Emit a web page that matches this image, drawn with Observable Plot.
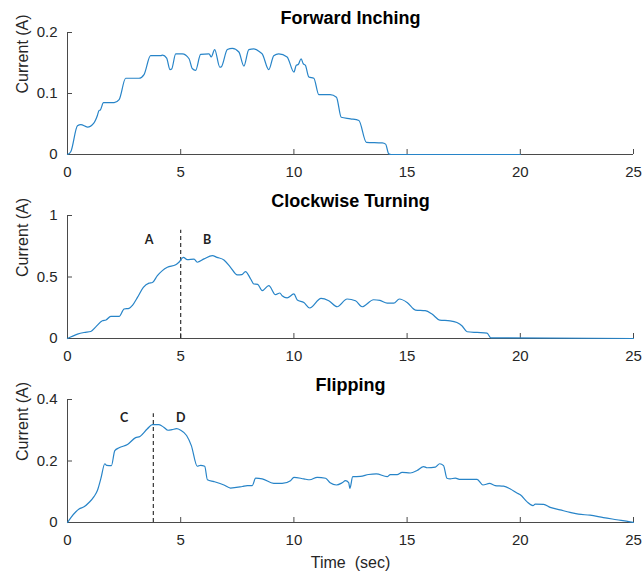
<!DOCTYPE html>
<html>
<head>
<meta charset="utf-8">
<script src="https://cdn.jsdelivr.net/npm/d3@7"></script>
<script src="https://cdn.jsdelivr.net/npm/@observablehq/plot@0.6"></script>
<style>
  html, body { margin: 0; padding: 0; background: #fff; }
  #chart svg { display: block; }
</style>
</head>
<body>
<div id="chart"></div>
<script>
// ---- Data ----
const xTicks = [0, 5, 10, 15, 20, 25];

const titles = ["Forward Inching", "Clockwise Turning", "Flipping"];
const yLabel = "Current (A)";
const xLabel = "Time\u00a0 (sec)";

// Panel 1: Forward Inching
const t1 = [0,0.15,0.44,0.59,0.88,1.17,1.32,1.39,1.45,1.59,2.06,2.28,2.57,3.16,3.38,3.67,4.12,4.2,4.38,4.53,4.6,4.78,5.07,5.37,5.51,5.66,5.88,6.25,6.35,6.5,6.73,6.8,7.06,7.28,7.57,7.79,8.01,8.23,8.5,8.6,8.89,9.11,9.33,9.7,10.0,10.1,10.2,10.32,10.41,10.51,10.66,10.88,11.1,11.6,11.88,12.09,12.5,12.87,13.2,13.9,14.05,14.19,14.3,20.0];
const v1 = [0,0.005,0.047,0.049,0.045,0.052,0.064,0.072,0.073,0.085,0.085,0.09,0.125,0.125,0.131,0.162,0.162,0.163,0.158,0.139,0.14,0.165,0.165,0.157,0.141,0.138,0.164,0.165,0.16,0.172,0.143,0.144,0.172,0.174,0.168,0.145,0.172,0.173,0.168,0.165,0.139,0.162,0.165,0.16,0.135,0.146,0.148,0.157,0.149,0.146,0.127,0.125,0.098,0.098,0.094,0.061,0.0585,0.0557,0.02,0.019,0.017,0.001,0,0];
const yTicks1 = [0, 0.1, 0.2];

// Panel 2: Clockwise Turning
const t2 = [0,0.44,0.73,1.03,1.25,1.54,1.7,1.91,2.28,2.5,2.72,2.87,3.09,3.35,3.6,3.75,3.97,4.19,4.41,4.78,4.92,5.12,5.29,5.59,5.73,6.03,6.4,6.6,6.91,7.2,7.5,7.7,7.86,8.09,8.23,8.4,8.6,8.89,9.19,9.38,9.48,9.7,10.0,10.15,10.44,10.7,11.2,11.54,11.91,12.35,12.72,13.01,13.52,13.8,14.12,14.41,14.66,15.0,15.37,15.8,16.1,16.44,16.9,17.2,17.42,17.65,18.09,18.53,18.7,25];
const v2 = [0,0.036,0.049,0.057,0.095,0.144,0.15,0.18,0.18,0.24,0.245,0.27,0.334,0.416,0.45,0.455,0.511,0.552,0.579,0.6,0.62,0.66,0.641,0.645,0.62,0.647,0.674,0.66,0.639,0.579,0.517,0.52,0.544,0.484,0.443,0.44,0.389,0.43,0.356,0.37,0.348,0.33,0.362,0.313,0.293,0.248,0.326,0.307,0.258,0.321,0.307,0.258,0.315,0.31,0.288,0.288,0.321,0.293,0.231,0.226,0.199,0.15,0.144,0.13,0.104,0.055,0.049,0.044,0.005,0];
const yTicks2 = [0, 0.5, 1];
const split2 = 5;       // dashed divider time
const split2Top = 0.88; // dashed divider top
const marks2 = ["A", "B"];
const marks2T = [3.6, 6.17];
const marks2V = [0.8, 0.8];

// Panel 3: Flipping
const t3 = [0,0.15,0.37,0.51,0.73,0.95,1.17,1.32,1.47,1.65,1.73,1.94,2.09,2.28,2.65,3.01,3.2,3.53,3.75,4.04,4.25,4.44,4.62,4.82,5.0,5.26,5.47,5.73,5.88,6.06,6.18,6.47,6.91,7.2,7.72,7.94,8.16,8.31,8.6,9.11,9.48,9.85,10.0,10.44,10.7,11.03,11.4,11.6,11.88,12.13,12.28,12.42,12.47,12.6,12.94,13.3,13.64,14.12,14.26,14.56,14.78,15.14,15.44,15.73,15.88,16.25,16.44,16.61,16.76,16.9,17.13,17.35,18.09,18.35,18.64,18.89,19.26,19.56,19.85,20.0,20.29,20.56,20.66,21.03,21.32,21.76,22.2,22.57,23.08,23.67,24.26,24.85,25];
const v3 = [0,0.016,0.035,0.044,0.051,0.065,0.084,0.104,0.142,0.191,0.186,0.185,0.234,0.243,0.254,0.276,0.28,0.305,0.318,0.318,0.31,0.30,0.302,0.305,0.30,0.283,0.25,0.183,0.186,0.183,0.139,0.133,0.122,0.112,0.117,0.12,0.12,0.144,0.142,0.127,0.127,0.136,0.147,0.142,0.139,0.147,0.144,0.129,0.122,0.129,0.136,0.13,0.111,0.149,0.15,0.156,0.158,0.149,0.156,0.156,0.163,0.161,0.169,0.182,0.178,0.18,0.191,0.185,0.144,0.142,0.144,0.14,0.14,0.122,0.127,0.12,0.118,0.109,0.096,0.09,0.068,0.055,0.06,0.059,0.049,0.041,0.033,0.027,0.024,0.016,0.009,0.002,0];
const yTicks3 = [0, 0.2, 0.4];
const split3 = 3.79;
const split3Top = 0.354;
const marks3 = ["C", "D"];
const marks3T = [2.5, 5.0];
const marks3V = [0.34, 0.34];

// ---- Drawing ----
const LINE = "#2784c8";
const AXIS = "#4a4a4a";
const TEXT = "#262626";
const FONT = "'Liberation Sans', Arial, Helvetica, sans-serif";

function panel(o) {
  const data = o.t.map((t, i) => ({t, v: o.v[i]}));
  const ymax = o.yTicks[o.yTicks.length - 1];
  const plotH = o.height - o.mt - o.mb;
  const marks = [
    Plot.axisX({ticks: xTicks, tickSize: 0, tickPadding: 12, label: null, fontSize: 15, fill: TEXT}),
    Plot.axisY({ticks: o.yTicks, tickSize: 0, tickPadding: 10, label: null, fontSize: 15, fill: TEXT, tickFormat: d => String(d)}),
    Plot.ruleY([0], {stroke: AXIS, strokeWidth: 1}),
    Plot.ruleX([0], {stroke: AXIS, strokeWidth: 1}),
    Plot.ruleX(xTicks, {x: d => d, y1: 0, y2: ymax * 5 / plotH, stroke: AXIS}),
    Plot.ruleY(o.yTicks, {y: d => d, x1: 0, x2: 25 * 5 / 566, stroke: AXIS})
  ];
  if (o.split != null) {
    marks.push(Plot.ruleX([o.split], {y1: 0, y2: o.splitTop, stroke: "#222", strokeWidth: 1.1, strokeDasharray: "4,3"}));
    marks.push(Plot.text(o.labels, {x: (d, i) => o.labelsT[i], y: (d, i) => o.labelsV[i], text: d => d,
      fontFamily: "Lato, 'Open Sans', sans-serif", fontWeight: "bold", fontSize: 12.5, fill: "#222"}));
  }
  marks.push(Plot.line(data, {x: "t", y: "v", stroke: LINE, strokeWidth: 1.2, curve: "monotone-x"}));
  marks.push(Plot.text([o.title], {frameAnchor: "top", dy: -o.titleDy, text: d => d,
    fontWeight: "bold", fontSize: 18, fill: "#000", lineAnchor: "middle"}));
  marks.push(Plot.text([yLabel], {frameAnchor: "left", dx: -45, rotate: -90, text: d => d,
    fontSize: 16, fill: TEXT, lineAnchor: "middle"}));
  if (o.xlabel) {
    marks.push(Plot.text([o.xlabel], {frameAnchor: "bottom", dy: 40, text: d => d,
      fontSize: 16, fill: TEXT, lineAnchor: "middle"}));
  }
  return Plot.plot({
    width: 644,
    height: o.height,
    marginLeft: 67,
    marginRight: 11,
    marginTop: o.mt,
    marginBottom: o.mb,
    style: {fontFamily: FONT, fontSize: "15px", color: TEXT, background: "#fff", overflow: "visible"},
    x: {domain: [0, 25]},
    y: {domain: [0, ymax]},
    marks
  });
}

const root = document.getElementById("chart");
root.append(panel({t: t1, v: v1, yTicks: yTicks1, title: titles[0], height: 185, mt: 32, mb: 31, titleDy: 14.5}));
root.append(panel({t: t2, v: v2, yTicks: yTicks2, title: titles[1], height: 185, mt: 30, mb: 32, titleDy: 14.5,
  split: split2, splitTop: split2Top, labels: marks2, labelsT: marks2T, labelsV: marks2V}));
root.append(panel({t: t3, v: v3, yTicks: yTicks3, title: titles[2], height: 204, mt: 29, mb: 52, titleDy: 14,
  split: split3, splitTop: split3Top, labels: marks3, labelsT: marks3T, labelsV: marks3V, xlabel: xLabel}));
</script>
</body>
</html>
